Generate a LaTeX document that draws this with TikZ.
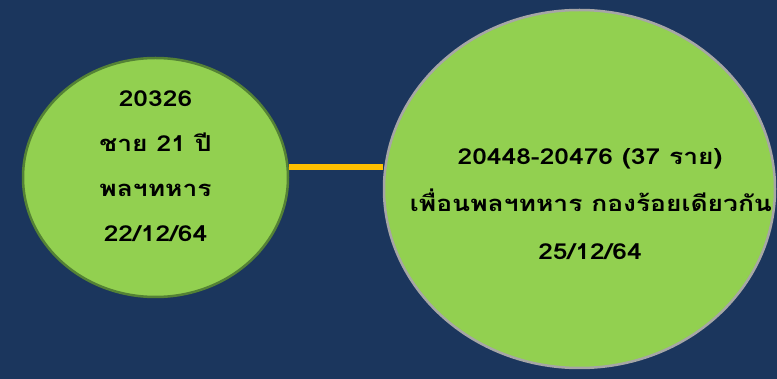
\documentclass[tikz,border=0pt]{standalone}
\usepackage{fontspec}
\newfontfamily\thaifont[Script=Thai,FakeStretch=1.2]{Loma}
\usetikzlibrary{shapes.geometric}
\definecolor{navy}{HTML}{1B365D}
\definecolor{leafgreen}{HTML}{92D050}
\definecolor{leafedge}{HTML}{548235}
\definecolor{greyedge}{HTML}{A6A6A6}
\definecolor{gold}{HTML}{FFC000}
\tikzset{
  caselabel/.style={font=\thaifont\bfseries\fontsize{22}{26}\selectfont, text=black, inner sep=0pt, anchor=base}
}
\begin{document}
\begin{tikzpicture}[x=1pt,y=-1pt]
    \fill[navy] (0,0) rectangle (777,379);
    \node (first) at (155.5,177.5) [ellipse, minimum width=265pt, minimum height=239pt, draw=leafedge, fill=leafgreen, line width=2.5pt] {};
    \node (group) at (579.5,189) [ellipse, minimum width=391pt, minimum height=358pt, draw=greyedge, fill=leafgreen, line width=2.5pt] {};
    \coordinate (linky) at (0,167);
    \draw (first.east |- linky) -- (group.west |- linky) [color=gold, line width=6pt];
    % left circle
    \node (id) at (155.5,107) [caselabel] {20326};
    \node (age) at (155.5,152) [caselabel] {ชาย 21 ปี};
    \node (job) at (155.5,197) [caselabel] {พลฯทหาร};
    \node (date) at (155.5,242) [caselabel] {22/12/64};
    % right circle
    \node (ids) at (590,165) [caselabel] {20448-20476 (37 ราย)};
    \node (mates) at (591,212) [caselabel] {เพื่อนพลฯทหาร กองร้อยเดียวกัน};
    \node (date2) at (590,260) [caselabel] {25/12/64};
\end{tikzpicture}
\end{document}
